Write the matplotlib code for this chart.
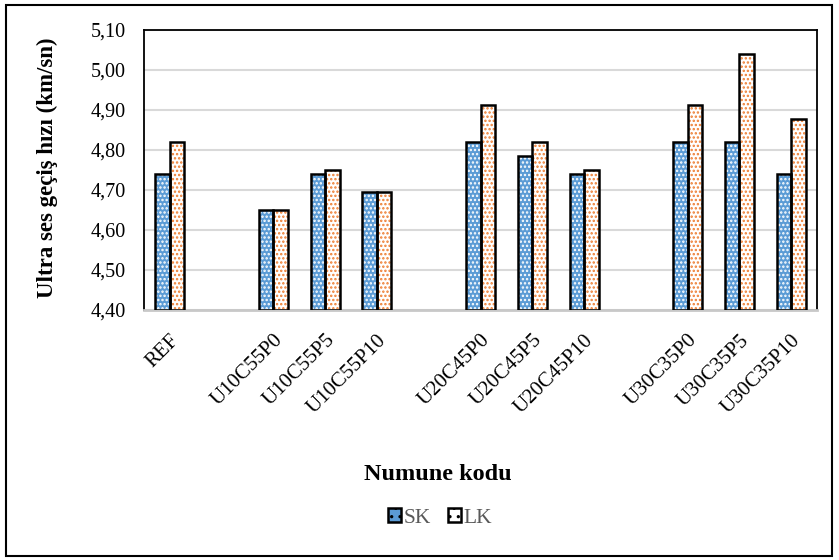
import numpy as np
import matplotlib
matplotlib.use("Agg")
import matplotlib.pyplot as plt
from matplotlib.patches import Patch, Rectangle
from matplotlib.ticker import FuncFormatter, MultipleLocator

# data (empty strings are the gaps between groups)
categories = ["REF", "", "U10C55P0", "U10C55P5", "U10C55P10", "",
              "U20C45P0", "U20C45P5", "U20C45P10", "",
              "U30C35P0", "U30C35P5", "U30C35P10"]
sk = [4.74, np.nan, 4.65, 4.74, 4.695, np.nan,
      4.82, 4.785, 4.74, np.nan,
      4.82, 4.82, 4.74]
lk = [4.82, np.nan, 4.65, 4.75, 4.695, np.nan,
      4.913, 4.82, 4.75, np.nan,
      4.913, 5.04, 4.877]
series_names = ["SK", "LK"]

plt.rcParams['font.family'] = ['Liberation Serif', 'DejaVu Serif']
plt.rcParams['hatch.linewidth'] = 1.15

blue = "#5B9BD5"
orange = "#ED7D31"

fig = plt.figure(figsize=(8.39, 5.60), dpi=100)
ax = fig.add_axes([144 / 839, 1 - 310 / 560, 673 / 839, 280 / 560])

x = np.arange(len(categories))
w = 0.28
base = 4.40

# first the fill with dotted pattern, then the black outline on top
ax.bar(x - w / 2, np.array(sk) - base, w, bottom=base, color=blue,
       edgecolor="white", hatch="....", linewidth=0, zorder=2)
ax.bar(x + w / 2, np.array(lk) - base, w, bottom=base, color="white",
       edgecolor=orange, hatch="....", linewidth=0, zorder=2)
ax.bar(x - w / 2, np.array(sk) - base, w, bottom=base, fill=False,
       edgecolor="black", linewidth=1.8, zorder=3)
ax.bar(x + w / 2, np.array(lk) - base, w, bottom=base, fill=False,
       edgecolor="black", linewidth=1.8, zorder=3)

ax.set_xlim(-0.5, len(categories) - 0.5)
ax.set_ylim(4.40, 5.10)
ax.yaxis.set_major_locator(MultipleLocator(0.1))
ax.yaxis.set_major_formatter(FuncFormatter(lambda v, p: ("%.2f" % v).replace(".", ",")))
ax.grid(axis="y", color="#D9D9D9", linewidth=1.5, zorder=0)
ax.set_axisbelow(True)

ax.set_xticks(x)
ax.set_xticklabels(categories, rotation=45, ha="right", va="top",
                   rotation_mode="anchor", fontsize=15)
ax.tick_params(axis="x", length=0, pad=15)
ax.tick_params(axis="y", length=0, pad=13, labelsize=14.5)

for s in ["top", "left", "right"]:
    ax.spines[s].set_color("black")
    ax.spines[s].set_linewidth(1.3)
ax.spines["bottom"].set_color("#C8C8C8")
ax.spines["bottom"].set_linewidth(2)

fig.text(47 / 839, 1 - 168 / 560, "Ultra ses geçiş hızı (km/sn)", rotation=90,
         ha="center", va="center", fontsize=16.5, fontweight="bold")
fig.text(438 / 839, 1 - 474 / 560, "Numune kodu", ha="center", va="center",
         fontsize=17.5, fontweight="bold")

handles = [Patch(facecolor=blue, edgecolor="black", hatch="..", linewidth=1.8),
           Patch(facecolor="white", edgecolor="black", hatch="..", linewidth=1.8)]
leg = fig.legend(handles, series_names, loc="center", bbox_to_anchor=(440 / 839, 1 - 518 / 560),
                 ncol=2, frameon=False, fontsize=15.5, handlelength=0.6, handleheight=0.6,
                 handletextpad=0.1, columnspacing=0.8)
for t in leg.get_texts():
    t.set_color("#595959")

# outer border of the chart
fig.patches.append(Rectangle((6 / 839, 4 / 560), 826 / 839, 551 / 560, transform=fig.transFigure,
                             fill=False, edgecolor="black", linewidth=1.5))

fig.savefig("out.png", dpi=100)
